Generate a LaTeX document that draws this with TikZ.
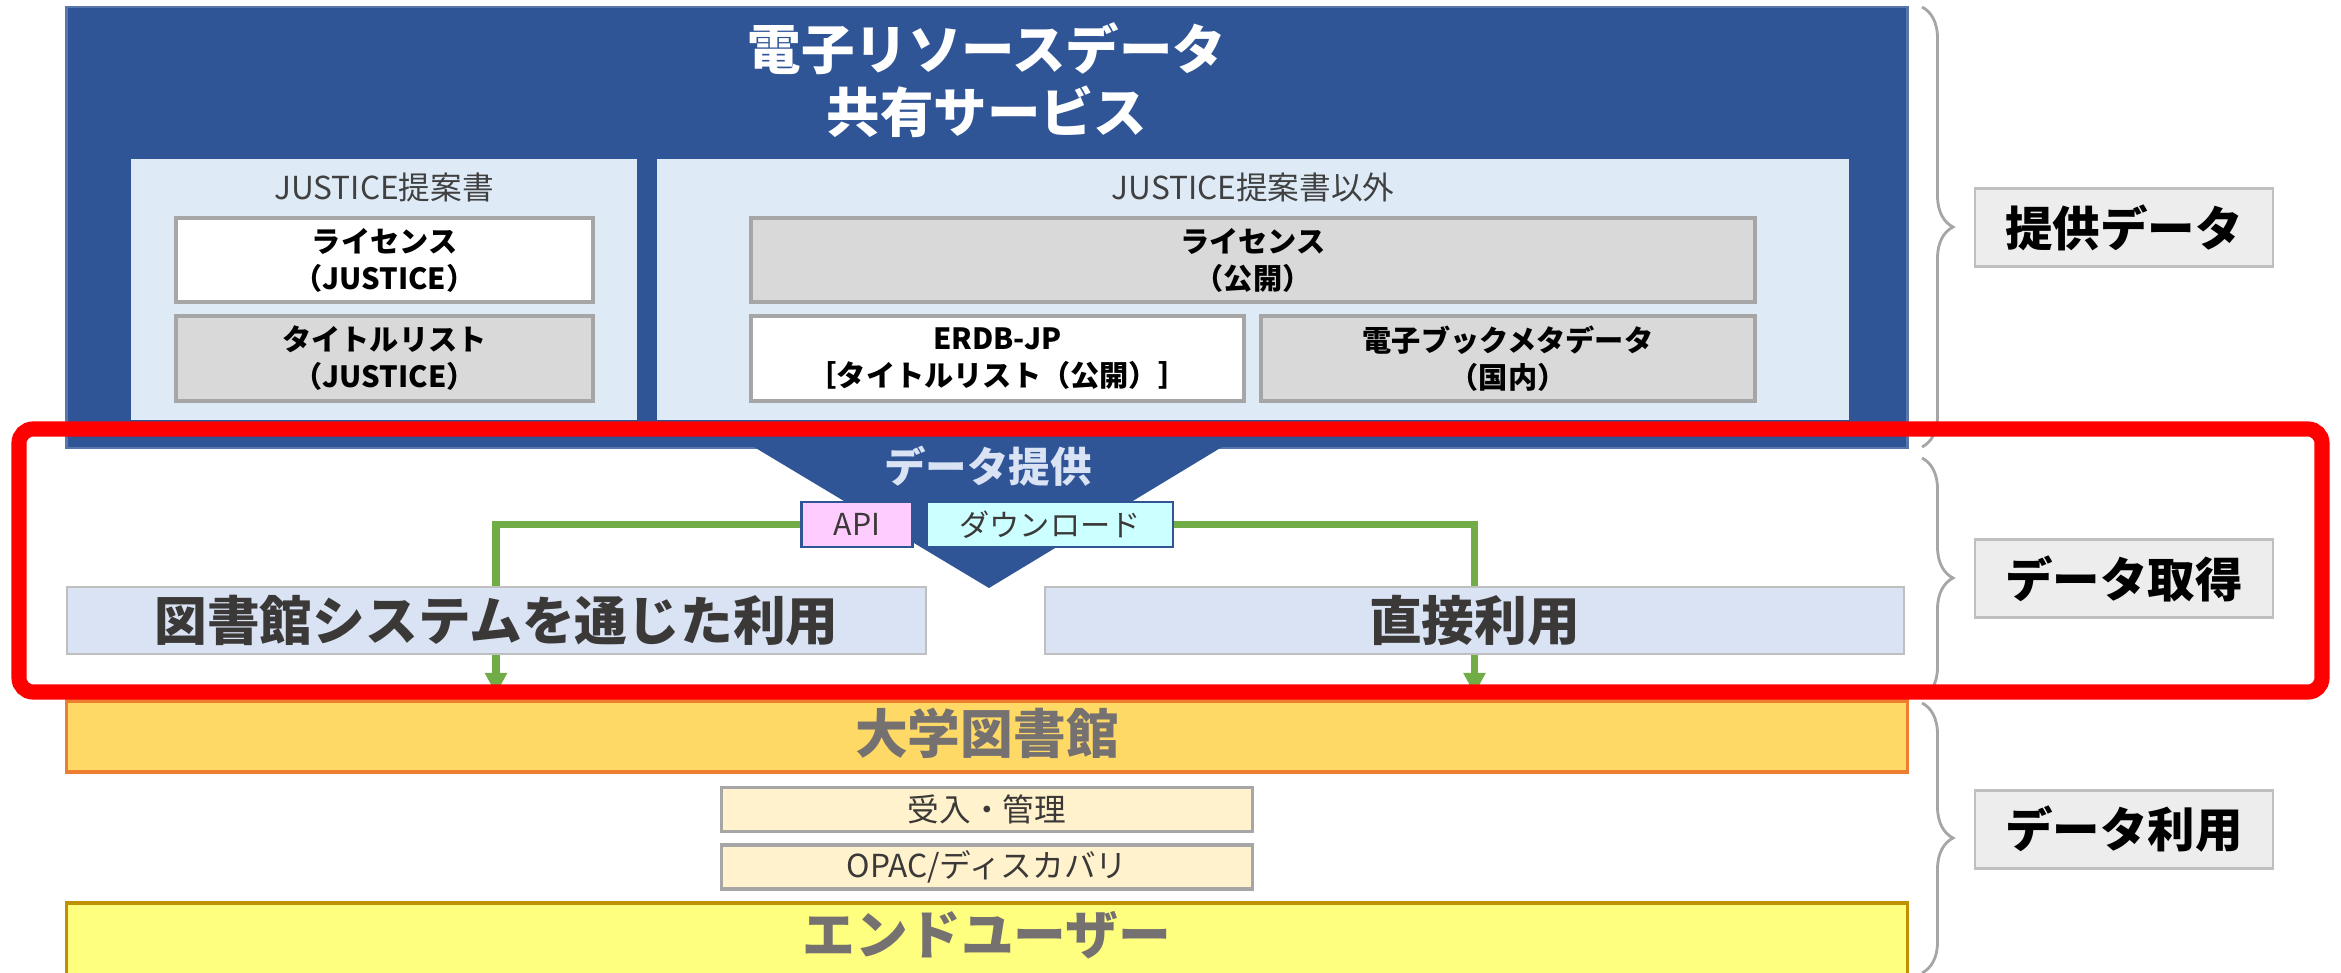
\documentclass[tikz,border=0pt]{standalone}
\usepackage{fontspec}
\setmainfont{Noto Sans CJK JP}
\usetikzlibrary{arrows.meta,decorations.pathreplacing}

\definecolor{svcblue}{HTML}{2F5597}
\definecolor{panelfill}{HTML}{DEEBF7}
\definecolor{boxfill}{HTML}{D9D9D9}
\definecolor{boxedge}{HTML}{A6A6A6}
\definecolor{labelfill}{HTML}{EDEDED}
\definecolor{labeledge}{HTML}{BFBFBF}
\definecolor{usefill}{HTML}{DAE3F3}
\definecolor{darktext}{HTML}{3B3838}
\definecolor{greytext}{HTML}{767171}
\definecolor{unifill}{HTML}{FFD966}
\definecolor{uniedge}{HTML}{ED7D31}
\definecolor{subfill}{HTML}{FFF2CC}
\definecolor{userfill}{HTML}{FFFF7F}
\definecolor{useredge}{HTML}{BF9000}
\definecolor{apifill}{HTML}{FFCCFF}
\definecolor{dlfill}{HTML}{CCFFFF}
\definecolor{flowgreen}{HTML}{70AD47}

\begin{document}
\begin{tikzpicture}[x=0.01cm, y=-0.01cm,
		databox/.style={draw=boxedge, line width=1.1pt, inner sep=0pt, align=center, minimum height=0.84cm, font=\fontsize{8.3}{10.5}\selectfont\bfseries},
		panel/.style={fill=panelfill, inner sep=0pt, minimum height=2.61cm},
		header/.style={text=black!75, font=\fontsize{9}{11}\selectfont},
		sidelabel/.style={draw=labeledge, fill=labelfill, line width=0.6pt, inner sep=0pt, minimum width=2.98cm, minimum height=0.78cm, font=\fontsize{13.5}{16}\selectfont\bfseries},
		usebox/.style={draw=labeledge, fill=usefill, line width=0.6pt, inner sep=0pt, minimum width=8.59cm, minimum height=0.67cm, text=darktext, font=\fontsize{15}{18}\selectfont\bfseries},
		wide/.style={minimum width=18.4cm, line width=0.9pt, inner sep=0pt},
		subbox/.style={draw=boxedge, fill=subfill, line width=0.9pt, inner sep=0pt, minimum width=5.3cm, minimum height=0.44cm, text=darktext, font=\fontsize{9}{11}\selectfont},
		tab/.style={draw=svcblue, line width=0.8pt, minimum height=0.45cm, inner sep=0pt, text=darktext, font=\fontsize{8.6}{10}\selectfont},
		flow/.style={draw=flowgreen, line width=2pt, -{Triangle[width=6pt,length=6pt]}},
		sidebrace/.style={draw=boxedge, line width=0.8pt, decorate, decoration={brace, amplitude=0.31cm}}]
	\clip (0,0) rectangle (2341,972);

	% Servizio dati
	\node[fill=svcblue, draw=svcblue!80!white, line width=0.6pt, minimum width=18.4cm, minimum height=4.41cm] (svc) at (987,227.5) {};
	\node[text=white, align=center, font=\fontsize{15.2}{17.9}\selectfont\bfseries] (title) at (987,80) {電子リソースデータ\\共有サービス};

	\node[panel, minimum width=5.06cm] (justice) at (384,289.5) {};
	\node[panel, minimum width=11.92cm] (other) at (1253,289.5) {};
	\node[header] (justicehead) at (384,187) {JUSTICE提案書};
	\node[header] (otherhead) at (1253,187) {JUSTICE提案書以外};

	\node[databox, fill=white, minimum width=4.17cm] (lic) at (384.5,260) {ライセンス\\（JUSTICE）};
	\node[databox, fill=boxfill, minimum width=4.17cm, minimum height=0.85cm] (titles) at (384.5,358.5) {タイトルリスト\\（JUSTICE）};
	\node[databox, fill=boxfill, minimum width=10.04cm] (publiclic) at (1253,260) {ライセンス\\（公開）};
	\node[databox, fill=white, minimum width=4.93cm, minimum height=0.85cm] (erdb) at (997.5,358.5) {ERDB-JP\\［タイトルリスト（公開）］};
	\node[databox, fill=boxfill, minimum width=4.94cm, minimum height=0.85cm] (ebook) at (1508,358.5) {電子ブックメタデータ\\（国内）};

	% Imbuto
	\fill[svcblue] (754,447) -- (1222,447) -- (989,588) -- cycle;
	\node[text=usefill, font=\fontsize{11.8}{14}\selectfont\bfseries] (provide) at (988,466) {データ提供};

	% Collegamenti
	\coordinate (libin) at (496,694);
	\coordinate (directin) at (1474.5,694);
	\node[tab, fill=apifill, minimum width=1.11cm] (api) at (857,524.5) {API};
	\node[tab, fill=dlfill, minimum width=2.46cm] (download) at (1050,524.5) {ダウンロード};
	\draw[flow] (api.west) -| (libin);
	\draw[flow] (download.east) -| (directin);

	\node[usebox] (libsys) at (496.5,620.5) {図書館システムを通じた利用};
	\node[usebox] (direct) at (1474.5,620.5) {直接利用};

	% Biblioteca e utenti
	\node[wide, draw=uniedge, fill=unifill, minimum height=0.71cm] (uni) at (987,736.5) {};
	\node[text=greytext, font=\fontsize{15}{18}\selectfont\bfseries] (unitext) at (987,733) {大学図書館};
	\node[subbox] (accept) at (987,809.5) {受入・管理};
	\node[subbox] (opac) at (987,867) {OPAC/ディスカバリ};
	\node[wide, draw=useredge, fill=userfill, minimum height=1.0cm] (user) at (987,953) {};
	\node[text=greytext, font=\fontsize{15}{18}\selectfont\bfseries] (usertext) at (987,935) {エンドユーザー};

	% Parentesi ed etichette
	\draw[sidebrace] (1922,7) -- (1922,447);
	\draw[sidebrace] (1922,458) -- (1922,698);
	\draw[sidebrace] (1922,703) -- (1922,973);
	\node[sidelabel] (provided) at (2124,227.5) {提供データ};
	\node[sidelabel] (acquire) at (2124,578.5) {データ取得};
	\node[sidelabel] (use) at (2124,829.5) {データ利用};

	% Cornice rossa
	\draw[red, line width=4.3pt, rounded corners=4pt] (19,429) rectangle (2322,692);
\end{tikzpicture}
\end{document}
